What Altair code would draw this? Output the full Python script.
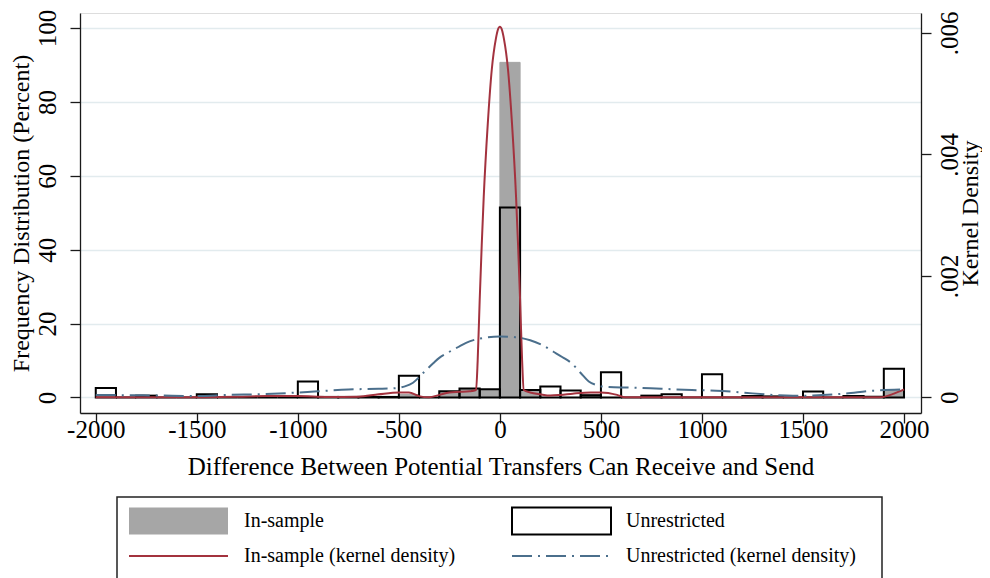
import altair as alt
import pandas as pd

# ---------------- data ----------------
bin_start = [-2000, -1900, -1800, -1700, -1600, -1500, -1400, -1300, -1200, -1100,
             -1000, -900, -800, -700, -600, -500, -400, -300, -200, -100,
             0, 100, 200, 300, 400, 500, 600, 700, 800, 900,
             1000, 1100, 1200, 1300, 1400, 1500, 1600, 1700, 1800, 1900]
bin_width = 100
insample_pct = [0, 0, 0, 0, 0, 0, 0, 0, 0, 0,
                0, 0, 0, 0, 0, 0.8, 0, 1.6, 2.3, 2.1,
                90.7, 1.9, 0, 0, 0.8, 0, 0, 0, 0, 0,
                0, 0, 0, 0, 0, 0, 0, 0, 0, 1.9]
unrestricted_pct = [2.6, 0, 0.5, 0, 0, 0.9, 0, 0, 0, 0,
                    4.3, 0.15, 0.15, 0.15, 0.15, 5.9, 0, 1.7, 2.4, 2.2,
                    51.4, 2.0, 3.0, 1.9, 0.6, 6.8, 0, 0.5, 0.9, 0,
                    6.3, 0, 0.4, 0.3, 0, 1.6, 0, 0.4, 0.2, 7.8]

insample_kd_x = [-2000, -1600, -1300, -1150, -1000, -850, -700, -600, -500, -450,
                 -400, -350, -300, -250, -200, -150, -118, -110, -100, -90,
                 -80, -60, -40, -20, -10, 0, 10, 20, 40, 60, 80, 90,
                 100, 110, 118, 150, 200, 250, 300, 360, 450, 500,
                 580, 620, 1880, 1950, 2000]
insample_kd = [0.0, 0.0, 0.00001, 0.00002, 0.00002, 0.000005, 0.00001, 0.00005, 0.00008, 0.00008,
               0.00002, 0.0, 0.00004, 0.00008, 0.00009, 0.0001, 0.00012, 0.0006, 0.0016, 0.0025,
               0.0033, 0.0045, 0.0054, 0.0059, 0.00605, 0.0061, 0.00605, 0.0059, 0.0054, 0.0045, 0.0033, 0.0025,
               0.0016, 0.0006, 0.00012, 0.00008, 0.00005, 0.00003, 0.00004, 0.00006, 0.00008, 0.00008,
               0.00004, 0.0, 0.0, 0.00006, 0.00013]

unrestricted_kd_x = [-2000, -1850, -1700, -1500, -1350, -1200, -1050, -900, -750, -600,
                     -520, -470, -430, -380, -330, -300, -260, -200, -150, -75,
                     0, 75, 150, 210, 265, 310, 355, 400, 440, 480,
                     530, 650, 800, 950, 1070, 1250, 1450, 1550, 1700, 1850, 2000]
unrestricted_kd = [0.00004, 0.000035, 0.00003, 0.00002, 0.00004, 0.00005, 0.00007, 0.0001, 0.00013, 0.00014,
                   0.00015, 0.00018, 0.00024, 0.0004, 0.00056, 0.00065, 0.00073, 0.00084, 0.00092, 0.00098,
                   0.001, 0.00099, 0.00094, 0.00086, 0.00075, 0.00066, 0.00056, 0.0004, 0.00026, 0.0002,
                   0.00017, 0.00016, 0.00014, 0.00012, 0.00011, 0.000065, 0.000025, 0.00003, 0.00006, 0.00011, 0.00013]

x_ticks = [-2000, -1500, -1000, -500, 0, 500, 1000, 1500, 2000]
pct_ticks = [0, 20, 40, 60, 80, 100]
kd_ticks = [0, 0.002, 0.004, 0.006]

legend_labels = ["In-sample", "Unrestricted",
                 "In-sample (kernel density)", "Unrestricted (kernel density)"]

# ---------------- styling ----------------
FONT = "Liberation Serif"
GRAY = "#a6a6a6"
RED = "#a3323e"
BLUE = "#4b6f8c"
GRID = "#e2ebee"
AXC = "#1a1a1a"

W, H = 841, 400
x_scale = alt.Scale(domain=[-2078, 2084], nice=False, zero=False)
yl_scale = alt.Scale(domain=[-4.2, 104.06], nice=False, zero=False)
yr_scale = alt.Scale(domain=[-0.000258, 0.006326], nice=False, zero=False)

bars = pd.DataFrame({
    "start": bin_start,
    "end": [b + bin_width for b in bin_start],
    "insample": insample_pct,
    "unrestricted": unrestricted_pct,
})
kd_in = pd.DataFrame({"x": insample_kd_x, "d": insample_kd})
kd_un = pd.DataFrame({"x": unrestricted_kd_x, "d": unrestricted_kd})

common_axis = dict(labelFont=FONT, titleFont=FONT, labelFontSize=25, titleFontSize=24,
                   titleFontWeight="normal", labelColor="black", titleColor="black",
                   domainColor=AXC, tickColor=AXC, domainWidth=1.3, tickWidth=1.3,
                   tickSize=10, labelOverlap=False)

x_axis = alt.Axis(values=x_ticks, grid=False, labelPadding=14, labelBaseline="alphabetic",
                  labelExpr="toString(datum.value)",
                  title="Difference Between Potential Transfers Can Receive and Send",
                  titleY=61, titleBaseline="alphabetic", **{**common_axis, "titleFontSize": 25})
yl_axis = alt.Axis(values=pct_ticks, orient="left", grid=True, gridColor=GRID, gridWidth=1.5,
                   labelAngle=270, labelAlign="center", labelBaseline="alphabetic", labelPadding=15,
                   title="Frequency Distribution (Percent)", titleAngle=270, titleX=-52, titleY=200,
                   titleAlign="center", titleBaseline="alphabetic", **common_axis)
yr_axis = alt.Axis(values=kd_ticks, orient="right", grid=False,
                   labelAngle=270, labelAlign="center", labelBaseline="alphabetic", labelPadding=26,
                   labelExpr="datum.value == 0 ? '0' : replace(format(datum.value, '.3f'), '0.', '.')",
                   title="Kernel Density", titleAngle=270, titleX=56, titleY=200,
                   titleAlign="center", titleBaseline="alphabetic", **common_axis)

insample_layer = alt.Chart(bars).mark_bar(fill=GRAY, stroke=GRAY, strokeWidth=1).encode(
    x=alt.X("start:Q", scale=x_scale, axis=x_axis),
    x2="end:Q",
    y=alt.Y("insample:Q", scale=yl_scale, axis=yl_axis),
    y2=alt.datum(0),
)
unres_layer = alt.Chart(bars).mark_bar(fill="transparent", stroke="black", strokeWidth=2).encode(
    x=alt.X("start:Q", scale=x_scale, axis=None),
    x2="end:Q",
    y=alt.Y("unrestricted:Q", scale=yl_scale, axis=None),
    y2=alt.datum(0),
)
red_layer = alt.Chart(kd_in).mark_line(color=RED, strokeWidth=2, interpolate="monotone").encode(
    x=alt.X("x:Q", scale=x_scale, axis=None),
    y=alt.Y("d:Q", scale=yr_scale, axis=yr_axis),
)
blue_layer = alt.Chart(kd_un).mark_line(color=BLUE, strokeWidth=2, strokeDash=[20, 6, 2, 6],
                                        interpolate="monotone").encode(
    x=alt.X("x:Q", scale=x_scale, axis=None),
    y=alt.Y("d:Q", scale=yr_scale, axis=None),
)

# ---------------- legend (own scales, below the plot) ----------------
LW, LH = 765, 103
lx = alt.Scale(domain=[0, LW], range=[37, 37 + LW], nice=False, zero=False)
ly = alt.Scale(domain=[0, LH], range=[484, 484 + LH], nice=False, zero=False)
COL_SW = [12, 395]
COL_TX = [127, 509]
ROW_Y = [24, 59]
SW_W, SW_H = 99, 27

leg = pd.DataFrame({
    "label": legend_labels,
    "col": [0, 1, 0, 1],
    "row": [0, 0, 1, 1],
})
leg["sx0"] = [COL_SW[c] for c in leg["col"]]
leg["sx1"] = leg["sx0"] + SW_W
leg["tx"] = [COL_TX[c] for c in leg["col"]]
leg["ym"] = [ROW_Y[r] for r in leg["row"]]
leg["y0"] = leg["ym"] - SW_H / 2
leg["y1"] = leg["ym"] + SW_H / 2
frame = pd.DataFrame({"x0": [0], "x1": [LW], "y0": [0], "y1": [LH]})

frame_layer = alt.Chart(frame).mark_rect(fill="white", stroke="#222", strokeWidth=1.5).encode(
    x=alt.X("x0:Q", scale=lx, axis=None), x2="x1:Q",
    y=alt.Y("y0:Q", scale=ly, axis=None), y2="y1:Q")
sw_fill = alt.Chart(leg[leg["label"] == legend_labels[0]]).mark_rect(fill=GRAY).encode(
    x=alt.X("sx0:Q", scale=lx, axis=None), x2="sx1:Q",
    y=alt.Y("y0:Q", scale=ly, axis=None), y2="y1:Q")
sw_out = alt.Chart(leg[leg["label"] == legend_labels[1]]).mark_rect(
    fill="white", stroke="black", strokeWidth=2).encode(
    x=alt.X("sx0:Q", scale=lx, axis=None), x2="sx1:Q",
    y=alt.Y("y0:Q", scale=ly, axis=None), y2="y1:Q")
sw_red = alt.Chart(leg[leg["label"] == legend_labels[2]]).mark_rule(color=RED, strokeWidth=2).encode(
    x=alt.X("sx0:Q", scale=lx, axis=None), x2="sx1:Q",
    y=alt.Y("ym:Q", scale=ly, axis=None))
sw_blue = alt.Chart(leg[leg["label"] == legend_labels[3]]).mark_rule(
    color=BLUE, strokeWidth=2, strokeDash=[20, 6, 2, 6]).encode(
    x=alt.X("sx0:Q", scale=lx, axis=None), x2="sx1:Q",
    y=alt.Y("ym:Q", scale=ly, axis=None))
leg_text = alt.Chart(leg).mark_text(align="left", baseline="middle", font=FONT,
                                     fontSize=20, color="black").encode(
    x=alt.X("tx:Q", scale=lx, axis=None),
    y=alt.Y("ym:Q", scale=ly, axis=None),
    text="label:N")

chart = alt.layer(
    insample_layer, unres_layer, red_layer, blue_layer,
    frame_layer, sw_fill, sw_out, sw_red, sw_blue, leg_text,
).resolve_scale(x="independent", y="independent").properties(
    width=W, height=H,
    autosize=alt.AutoSizeParams(type="none"),
    padding={"left": 72, "top": 5, "right": 61, "bottom": 170},
).configure_view(stroke=None).configure(background="white")

chart.save("out.html", embed_options={"renderer": "svg", "actions": False})
